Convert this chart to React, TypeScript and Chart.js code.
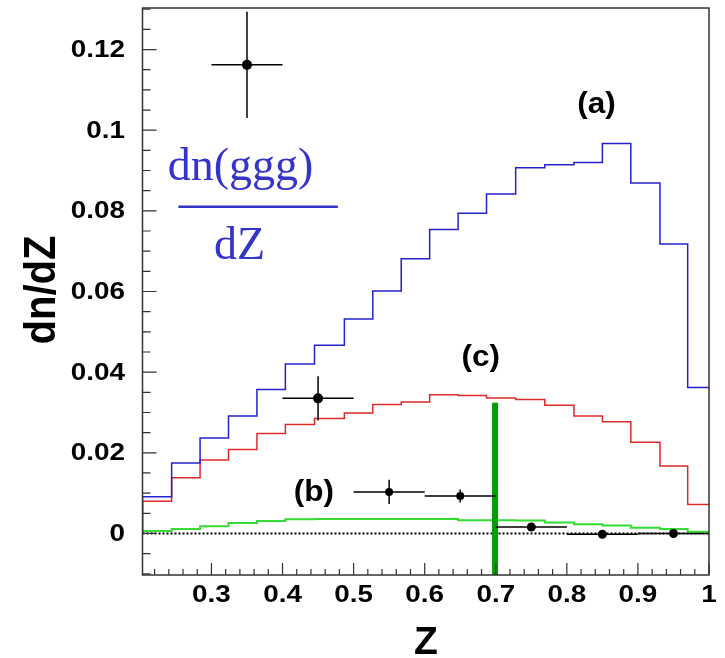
import React, { useEffect, useRef } from "react";
import { Chart, registerables } from "chart.js";

Chart.register(...registerables);

// ---- data ----
const binEdges = [0.203, 0.244, 0.284, 0.324, 0.364, 0.404, 0.445, 0.487, 0.527, 0.567, 0.607, 0.647, 0.687, 0.728, 0.769, 0.810, 0.850, 0.890, 0.931, 0.970, 1.0];
const histA = [0.0091, 0.0175, 0.0237, 0.0291, 0.0357, 0.0420, 0.0467, 0.0532, 0.0601, 0.0681, 0.0754, 0.0794, 0.0842, 0.0907, 0.0914, 0.0920, 0.0967, 0.0869, 0.0718, 0.0362];
const histC = [0.0080, 0.0138, 0.0182, 0.0208, 0.0248, 0.0270, 0.0285, 0.0299, 0.0320, 0.0326, 0.0344, 0.0342, 0.0336, 0.0332, 0.0318, 0.0291, 0.0277, 0.0226, 0.0167, 0.0072];
const histB = [0.0006, 0.0011, 0.0018, 0.0026, 0.0031, 0.0035, 0.0036, 0.0036, 0.0036, 0.0036, 0.0036, 0.0033, 0.0033, 0.0032, 0.0027, 0.0023, 0.0020, 0.0014, 0.0011, 0.0004];

const dataX = [0.35, 0.45, 0.55, 0.65, 0.75, 0.85, 0.95];
const dataY = [0.1162, 0.0335, 0.0103, 0.0093, 0.0016, -0.0002, 0.0];
const dataYErr = [0.0132, 0.0055, 0.0030, 0.0016, 0.0005, 0.0003, 0.0003];
const dataXErr = [0.05, 0.05, 0.05, 0.05, 0.05, 0.05, 0.05];
const dataRadius = [5, 5, 4, 4, 4.5, 4.5, 4.5];

const cutX = 0.699;
const cutTop = 0.0324;

const xTickValues = [0.3, 0.4, 0.5, 0.6, 0.7, 0.8, 0.9, 1.0];
const xTickLabels = ["0.3", "0.4", "0.5", "0.6", "0.7", "0.8", "0.9", "1"];
const yTickValues = [0, 0.02, 0.04, 0.06, 0.08, 0.1, 0.12];
const yTickLabels = ["0", "0.02", "0.04", "0.06", "0.08", "0.1", "0.12"];

const X_MIN = 0.203;
const X_MAX = 1.0;
const Y_MIN = -0.0103;
const Y_MAX = 0.1303;

const curveLabels = [
  { text: "(a)", x: 0.8416, y: 0.1063 },
  { text: "(c)", x: 0.679, y: 0.0435 },
  { text: "(b)", x: 0.444, y: 0.0100 },
];

function histPoints(vals: number[]) {
  const pts: { x: number; y: number }[] = [{ x: binEdges[0], y: 0 }];
  vals.forEach((v, i) => pts.push({ x: binEdges[i], y: v }));
  pts.push({ x: binEdges[vals.length], y: vals[vals.length - 1] });
  return pts;
}

const SANS = "'Liberation Sans', Arial, Helvetica, sans-serif";
const SERIF = "'Liberation Serif', 'Times New Roman', serif";

function stretchText(ctx: CanvasRenderingContext2D, text: string, x: number, y: number, font: string, align: CanvasTextAlign, baseline: CanvasTextBaseline, sx: number) {
  ctx.save();
  ctx.translate(x, y);
  ctx.scale(sx, 1);
  ctx.font = font;
  ctx.textAlign = align;
  ctx.textBaseline = baseline;
  ctx.fillText(text, 0, 0);
  ctx.restore();
}

const decorPlugin = {
  id: "decor",
  afterDatasetsDraw(chart: any) {
    const ctx: CanvasRenderingContext2D = chart.ctx;
    const xs = chart.scales.x;
    const ys = chart.scales.y;
    const a = chart.chartArea;

    // error bars
    ctx.save();
    ctx.beginPath();
    ctx.rect(a.left, a.top, a.right - a.left, a.bottom - a.top);
    ctx.clip();
    ctx.strokeStyle = "#000";
    ctx.lineWidth = 1.5;
    dataX.forEach((xv, i) => {
      const px = xs.getPixelForValue(xv);
      const py = ys.getPixelForValue(dataY[i]);
      ctx.beginPath();
      ctx.moveTo(xs.getPixelForValue(xv - dataXErr[i]), py);
      ctx.lineTo(xs.getPixelForValue(xv + dataXErr[i]), py);
      ctx.moveTo(px, ys.getPixelForValue(dataY[i] - dataYErr[i]));
      ctx.lineTo(px, ys.getPixelForValue(dataY[i] + dataYErr[i]));
      ctx.stroke();
    });
    ctx.restore();
  },
  afterDraw(chart: any) {
    const ctx: CanvasRenderingContext2D = chart.ctx;
    const xs = chart.scales.x;
    const ys = chart.scales.y;
    const a = chart.chartArea;

    ctx.save();
    // frame
    ctx.strokeStyle = "#333";
    ctx.lineWidth = 1.5;
    ctx.strokeRect(a.left, a.top, a.right - a.left, a.bottom - a.top);

    // x ticks (inside)
    ctx.lineWidth = 1.2;
    ctx.beginPath();
    for (let k = 11; k <= 50; k++) {
      const v = k * 0.02;
      if (v < X_MIN - 1e-9 || v > X_MAX + 1e-9) continue;
      const px = xs.getPixelForValue(v);
      const major = k % 5 === 0;
      ctx.moveTo(px, a.bottom);
      ctx.lineTo(px, a.bottom - (major ? 12 : 6));
    }
    // y ticks (inside)
    for (let k = -2; k <= 26; k++) {
      const v = k * 0.005;
      if (v < Y_MIN - 1e-9 || v > Y_MAX + 1e-9) continue;
      const py = ys.getPixelForValue(v);
      const major = k % 4 === 0;
      ctx.moveTo(a.left, py);
      ctx.lineTo(a.left + (major ? 14 : 8), py);
    }
    ctx.stroke();

    // tick labels
    ctx.fillStyle = "#000";
    const tickFont = `bold 24px ${SANS}`;
    xTickValues.forEach((v, i) => {
      stretchText(ctx, xTickLabels[i], xs.getPixelForValue(v), 595, tickFont, "center", "middle", 1.16);
    });
    yTickValues.forEach((v, i) => {
      stretchText(ctx, yTickLabels[i], 125, ys.getPixelForValue(v) + 1, tickFont, "right", "middle", 1.16);
    });

    // axis titles
    stretchText(ctx, "Z", 426, 643, `bold 39px ${SANS}`, "center", "middle", 1.0);
    ctx.save();
    ctx.translate(43, 290);
    ctx.scale(1.1, 1);
    ctx.rotate(-Math.PI / 2);
    ctx.font = `bold 40px ${SANS}`;
    ctx.textAlign = "center";
    ctx.textBaseline = "middle";
    ctx.fillText("dn/dZ", 0, 0);
    ctx.restore();

    // curve labels
    curveLabels.forEach((l) => {
      stretchText(ctx, l.text, xs.getPixelForValue(l.x), ys.getPixelForValue(l.y), `bold 30px ${SANS}`, "center", "middle", 1.05);
    });

    // blue fraction dn(ggg)/dZ
    ctx.fillStyle = "#3434cc";
    ctx.font = `46px ${SERIF}`;
    ctx.textAlign = "center";
    ctx.textBaseline = "alphabetic";
    ctx.fillText("dn(ggg)", xs.getPixelForValue(0.341), ys.getPixelForValue(0.0877));
    ctx.fillText("dZ", xs.getPixelForValue(0.3395), ys.getPixelForValue(0.0680));
    ctx.strokeStyle = "#3434cc";
    ctx.lineWidth = 2.5;
    ctx.beginPath();
    ctx.moveTo(xs.getPixelForValue(0.2535), ys.getPixelForValue(0.0810));
    ctx.lineTo(xs.getPixelForValue(0.4778), ys.getPixelForValue(0.0810));
    ctx.stroke();
    ctx.restore();
  },
};

export default function App() {
  const ref = useRef<HTMLCanvasElement | null>(null);
  useEffect(() => {
    if (!ref.current) return;
    const chart = new Chart(ref.current, {
      type: "line",
      data: {
        datasets: [
          {
            label: "cut",
            data: [{ x: cutX, y: Y_MIN }, { x: cutX, y: cutTop }],
            borderColor: "#00a000",
            borderWidth: 6,
            pointRadius: 0,
            order: 0,
          },
          {
            label: "data",
            data: dataX.map((x, i) => ({ x, y: dataY[i] })),
            showLine: false,
            pointRadius: dataRadius,
            pointBackgroundColor: "#000",
            pointBorderColor: "#000",
            pointBorderWidth: 0,
            order: 1,
          },
          {
            label: "(a)",
            data: histPoints(histA),
            stepped: "before",
            borderColor: "#2222cc",
            borderWidth: 1.5,
            pointRadius: 0,
            order: 3,
          },
          {
            label: "(c)",
            data: histPoints(histC),
            stepped: "before",
            borderColor: "#dd2a2a",
            borderWidth: 1.5,
            pointRadius: 0,
            order: 4,
          },
          {
            label: "(b)",
            data: histPoints(histB),
            stepped: "before",
            borderColor: "#33dd33",
            borderWidth: 2,
            pointRadius: 0,
            order: 5,
          },
          {
            label: "zero",
            data: [{ x: X_MIN, y: 0 }, { x: X_MAX, y: 0 }],
            borderColor: "#000",
            borderWidth: 2,
            borderDash: [2, 2],
            pointRadius: 0,
            order: 6,
          },
        ],
      },
      options: {
        animation: false,
        responsive: false,
        maintainAspectRatio: false,
        layout: { padding: { left: 0, top: 8, right: 16, bottom: 0 } },
        plugins: { legend: { display: false }, tooltip: { enabled: false } },
        scales: {
          x: {
            type: "linear",
            min: X_MIN,
            max: X_MAX,
            grid: { display: false },
            border: { display: false },
            ticks: { display: false },
            afterFit: (s: any) => { s.height = 83; },
          },
          y: {
            type: "linear",
            min: Y_MIN,
            max: Y_MAX,
            grid: { display: false },
            border: { display: false },
            ticks: { display: false },
            afterFit: (s: any) => { s.width = 142.5; },
          },
        },
      },
      plugins: [decorPlugin],
    } as any);
    return () => chart.destroy();
  }, []);
  return (
    <div style={{ position: "fixed", left: 0, top: 0, width: 725, height: 658, background: "#fff" }}>
      <canvas ref={ref} width={725} height={658} style={{ width: 725, height: 658, display: "block" }} />
    </div>
  );
}
